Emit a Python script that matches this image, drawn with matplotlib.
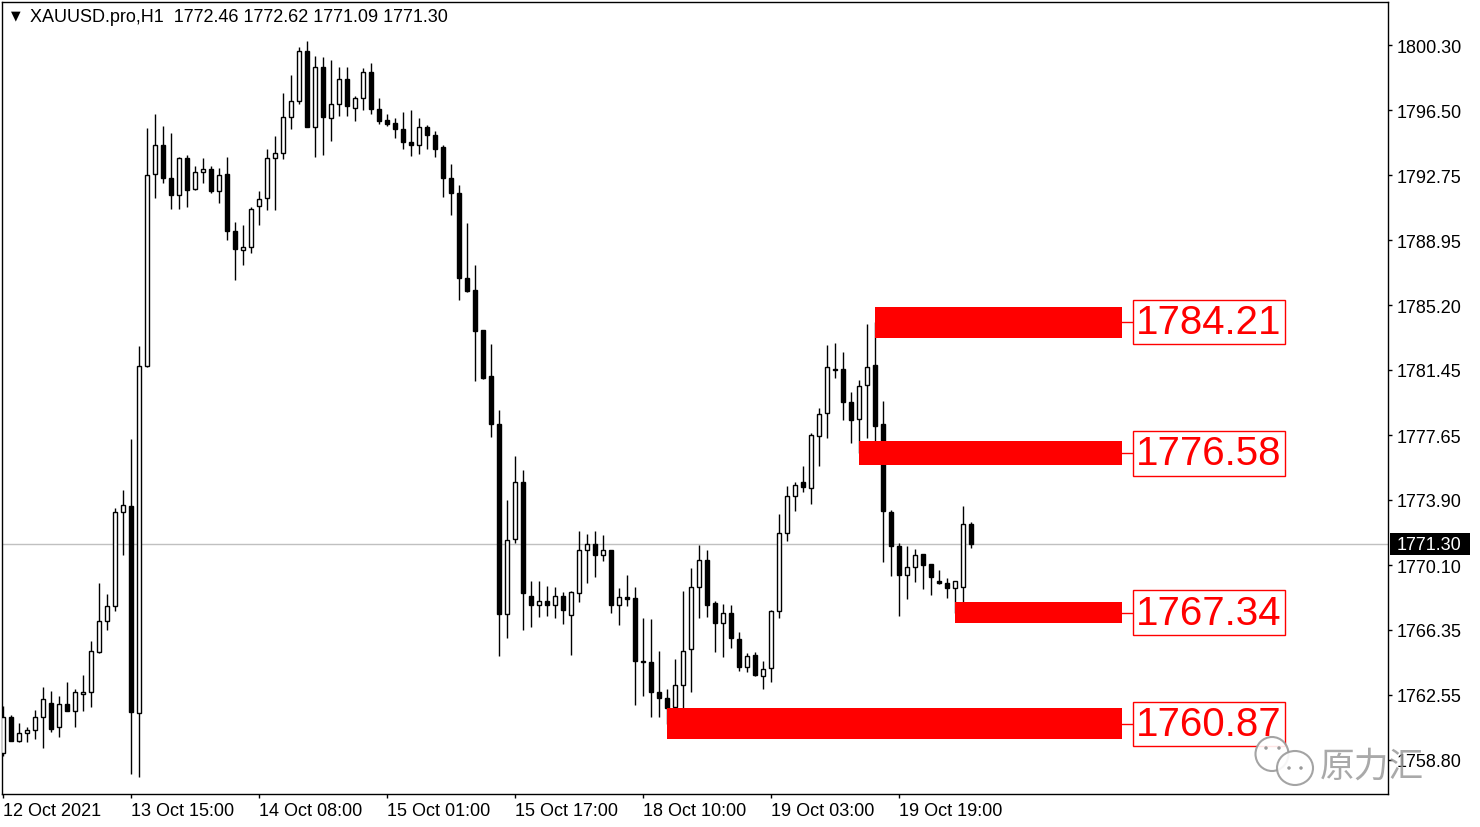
import matplotlib.pyplot as plt
from matplotlib.patches import Rectangle, Ellipse
import numpy as np

plt.rcParams['font.family'] = ['Liberation Sans', 'DejaVu Sans']

# H1 candles (oldest -> newest)
opens = [1759.2, 1761.3, 1759.9, 1760.35, 1760.5, 1761.3, 1762.1, 1760.7, 1762.0, 1761.6,
         1762.6, 1762.7, 1765.05, 1766.85, 1767.7, 1773.2, 1773.5, 1761.5, 1781.65, 1792.8,
         1794.5, 1792.6, 1791.6, 1793.75, 1791.95, 1792.9, 1793.1, 1791.8, 1792.8, 1789.5,
         1788.4, 1788.55, 1790.95, 1791.4, 1793.75, 1794.05, 1796.1, 1797.05, 1799.95, 1795.55,
         1799.05, 1796.05, 1796.9, 1798.3, 1796.65, 1797.25, 1798.75, 1796.6, 1795.95, 1795.75,
         1795.4, 1794.65, 1794.5, 1795.55, 1795.1, 1794.4, 1792.55, 1791.7, 1786.75, 1786.05,
         1783.75, 1781.05, 1778.3, 1767.25, 1771.6, 1774.95, 1768.3, 1767.75, 1768.0, 1767.8,
         1768.3, 1767.2, 1768.5, 1771.0, 1771.3, 1770.7, 1771.0, 1767.75, 1768.25, 1768.2,
         1764.55, 1764.45, 1762.7, 1762.35, 1761.85, 1763.15, 1765.2, 1768.85, 1770.4, 1767.9,
         1766.75, 1767.3, 1765.8, 1764.2, 1764.85, 1763.65, 1764.1, 1767.45, 1771.95, 1774.1,
         1774.95, 1774.6, 1777.6, 1778.95, 1781.5, 1781.5, 1779.55, 1778.6, 1780.55, 1781.7,
         1778.3, 1773.15, 1771.2, 1769.5, 1770.0, 1770.75, 1770.15, 1769.2, 1769.05, 1768.75,
         1768.85, 1772.46]
highs = [1761.9, 1761.4, 1760.9, 1760.7, 1761.7, 1763.0, 1762.8, 1762.5, 1763.3, 1762.9,
         1763.7, 1765.7, 1769.05, 1768.4, 1773.4, 1774.45, 1777.4, 1782.8, 1795.5, 1796.3,
         1795.6, 1795.2, 1793.8, 1793.9, 1793.3, 1793.75, 1793.3, 1793.15, 1793.8, 1790.0,
         1789.85, 1790.9, 1791.8, 1794.25, 1795.0, 1797.5, 1798.55, 1800.2, 1800.55, 1799.65,
         1799.6, 1799.45, 1799.0, 1799.0, 1797.35, 1798.95, 1799.25, 1797.2, 1796.3, 1796.05,
         1796.4, 1796.5, 1796.05, 1795.65, 1795.3, 1794.5, 1793.4, 1792.2, 1789.95, 1787.5,
         1783.75, 1782.95, 1779.1, 1773.9, 1776.45, 1775.6, 1769.2, 1769.15, 1768.9, 1768.8,
         1768.55, 1768.6, 1772.05, 1771.9, 1772.05, 1771.85, 1771.0, 1768.75, 1769.5, 1768.8,
         1767.0, 1766.95, 1765.1, 1762.9, 1764.65, 1768.6, 1769.95, 1771.25, 1771.0, 1768.0,
         1767.85, 1767.75, 1766.2, 1765.0, 1765.05, 1764.55, 1767.5, 1773.05, 1774.7, 1774.95,
         1775.85, 1777.75, 1779.2, 1782.9, 1783.0, 1782.5, 1780.15, 1780.85, 1784.1, 1784.21,
         1779.65, 1773.3, 1771.4, 1771.2, 1771.05, 1770.75, 1770.15, 1769.8, 1769.35, 1769.15,
         1773.55, 1772.62]
lows = [1759.0, 1759.9, 1759.8, 1759.8, 1760.0, 1759.5, 1760.4, 1760.1, 1761.6, 1760.7,
        1761.6, 1761.85, 1765.0, 1766.3, 1767.4, 1770.7, 1757.95, 1757.8, 1781.6, 1791.4,
        1792.3, 1790.8, 1790.8, 1790.9, 1791.9, 1792.3, 1791.7, 1791.1, 1789.0, 1786.65,
        1787.55, 1788.2, 1789.85, 1790.7, 1790.7, 1793.7, 1795.4, 1796.9, 1795.55, 1793.8,
        1793.9, 1794.7, 1796.2, 1796.15, 1795.9, 1796.5, 1796.3, 1795.7, 1795.6, 1794.9,
        1794.25, 1793.85, 1793.95, 1794.25, 1793.8, 1791.5, 1790.45, 1785.5, 1785.95, 1780.8,
        1780.9, 1777.55, 1764.8, 1765.85, 1771.4, 1766.3, 1766.5, 1767.1, 1767.15, 1767.0,
        1766.65, 1764.85, 1767.95, 1769.05, 1769.4, 1770.35, 1767.3, 1766.6, 1767.7, 1761.95,
        1762.5, 1761.3, 1761.3, 1760.87, 1761.0, 1761.5, 1762.75, 1767.0, 1767.1, 1765.05,
        1764.75, 1765.3, 1763.95, 1763.9, 1763.65, 1762.9, 1763.3, 1767.0, 1771.5, 1773.25,
        1774.35, 1773.65, 1775.85, 1777.45, 1780.95, 1778.5, 1777.2, 1776.58, 1777.45, 1776.3,
        1770.25, 1769.45, 1767.15, 1768.15, 1769.1, 1768.7, 1768.35, 1769.0, 1768.2, 1767.34,
        1767.75, 1771.09]
closes = [1761.3, 1759.9, 1760.35, 1760.5, 1761.3, 1762.3, 1760.6, 1762.0, 1761.6, 1762.7,
          1762.7, 1765.1, 1766.85, 1767.7, 1773.2, 1773.6, 1761.55, 1781.65, 1792.75, 1794.5,
          1792.6, 1791.6, 1793.75, 1791.9, 1792.9, 1793.1, 1791.8, 1792.75, 1789.5, 1788.45,
          1788.55, 1790.8, 1791.35, 1793.75, 1794.05, 1796.1, 1797.05, 1799.95, 1795.55, 1799.05,
          1796.1, 1796.9, 1798.35, 1796.75, 1797.25, 1798.75, 1796.6, 1795.9, 1795.7, 1795.45,
          1794.65, 1794.5, 1795.55, 1795.1, 1794.25, 1792.55, 1791.7, 1786.75, 1786.0, 1783.7,
          1780.95, 1778.3, 1767.25, 1771.55, 1774.95, 1768.5, 1767.75, 1768.0, 1767.75, 1768.3,
          1767.5, 1768.55, 1770.95, 1771.3, 1770.7, 1771.0, 1767.75, 1768.25, 1768.15, 1764.55,
          1764.45, 1762.75, 1762.35, 1761.8, 1763.15, 1765.1, 1768.85, 1770.4, 1767.8, 1766.75,
          1767.3, 1765.85, 1764.15, 1764.8, 1763.7, 1764.05, 1767.4, 1771.95, 1774.1, 1774.75,
          1774.65, 1777.65, 1778.85, 1781.6, 1781.4, 1779.55, 1778.55, 1780.5, 1781.6, 1778.2,
          1773.25, 1771.2, 1769.5, 1770.0, 1770.7, 1770.1, 1769.4, 1769.05, 1768.75, 1769.15,
          1772.5, 1771.30]

time_tick_pos = [0, 16, 32, 48, 64, 80, 96, 112]
time_labels = ['12 Oct 2021', '13 Oct 15:00', '14 Oct 08:00', '15 Oct 01:00',
               '15 Oct 17:00', '18 Oct 10:00', '19 Oct 03:00', '19 Oct 19:00']
price_ticks = [1800.30, 1796.50, 1792.75, 1788.95, 1785.20, 1781.45,
               1777.65, 1773.90, 1770.10, 1766.35, 1762.55, 1758.80]

levels = [1784.21, 1776.58, 1767.34, 1760.87]
level_start = [109, 107, 119, 83]
level_thick = [1.8, 1.4, 1.2, 1.8]
level_end = 139.9

symbol = 'XAUUSD.pro,H1'

W, H = 1480, 828
def fx(px):
    return px / W
def fy(py):
    return 1 - py / H

fig = plt.figure(figsize=(14.8, 8.28), dpi=100)
ax = fig.add_axes([fx(2), fy(795), fx(1386), 792 / H])

o = np.array(opens)
c = np.array(closes)
x = np.arange(len(o))

ax.axhline(closes[-1], color='#c0c0c0', lw=1, zorder=1)

# candles
ax.vlines(x, lows, highs, color='black', lw=1, zorder=2)
up = c >= o
body_bottom = np.minimum(o, c)
body_h = np.maximum(np.abs(c - o), 0.04)
ax.bar(x, body_h, bottom=body_bottom, width=0.58,
       color=np.where(up, 'white', 'black'), edgecolor='black', linewidth=1, zorder=3)

# support / resistance bands with labels
for lvl, start, th in zip(levels, level_start, level_thick):
    ax.add_patch(Rectangle((start, lvl - th / 2), level_end - start, th,
                           facecolor='#ff0000', edgecolor='none', zorder=4))
    ax.plot([level_end, 141.5], [lvl, lvl], color='#ff0000', lw=1, zorder=4)
    ax.text(141.6, lvl, f'{lvl:.2f}', fontsize=29, color='#ff0000', va='center', ha='left',
            zorder=5, bbox=dict(boxstyle='square,pad=0.08', fc='white', ec='#ff0000', lw=1))

ax.set_xlim(-0.125, 173.125)
ax.set_ylim(1756.80, 1802.80)

ax.yaxis.tick_right()
ax.set_yticks(price_ticks)
ax.set_yticklabels([f'{p:.2f}' for p in price_ticks])
ax.tick_params(axis='y', direction='out', length=3, width=1, pad=3.5, labelsize=13)
ax.set_xticks(time_tick_pos)
ax.set_xticklabels(time_labels, ha='left')
ax.tick_params(axis='x', direction='out', length=3, width=1, pad=3, labelsize=13)
for s in ax.spines.values():
    s.set_linewidth(1)
    s.set_color('black')

# last price marker on the price scale
ytr = ax.get_yaxis_transform()
ax.add_patch(Rectangle((1388 / 1386, closes[-1] - 0.64), 80 / 1386, 1.28, transform=ytr,
                       facecolor='black', edgecolor='none', clip_on=False, zorder=6))
ax.text(1395 / 1386, closes[-1], f'{closes[-1]:.2f}', transform=ytr, color='white',
        fontsize=13, va='center', ha='left', clip_on=False, zorder=7)

# header
fig.text(fx(11), fy(16), '\u25bc', fontsize=9, family='DejaVu Sans', va='center')
fig.text(fx(30), fy(17),
         f'{symbol}  {opens[-1]:.2f} {highs[-1]:.2f} {lows[-1]:.2f} {closes[-1]:.2f}',
         fontsize=13, va='center', ha='left')

# watermark
wm = '#9a9a9a'
for cx, cy, w, h in [(1272, 755, 33, 34), (1295, 769, 36, 34)]:
    fig.add_artist(Ellipse((fx(cx), fy(cy)), w / W, h / H, transform=fig.transFigure,
                           facecolor='white', edgecolor=wm, lw=1.5, alpha=0.9, zorder=8))
for ex, ey in [(1266, 749), (1279, 749), (1289, 769), (1301, 769)]:
    fig.add_artist(Ellipse((fx(ex), fy(ey)), 3.5 / W, 3.5 / H, transform=fig.transFigure,
                           facecolor=wm, edgecolor='none', zorder=9))
fig.text(fx(1320), fy(767), '原力汇', fontsize=25, color=wm, alpha=0.85,
         family=['Noto Sans CJK SC', 'DejaVu Sans'], va='center', ha='left', zorder=9)

fig.savefig('out.png', dpi=100)
